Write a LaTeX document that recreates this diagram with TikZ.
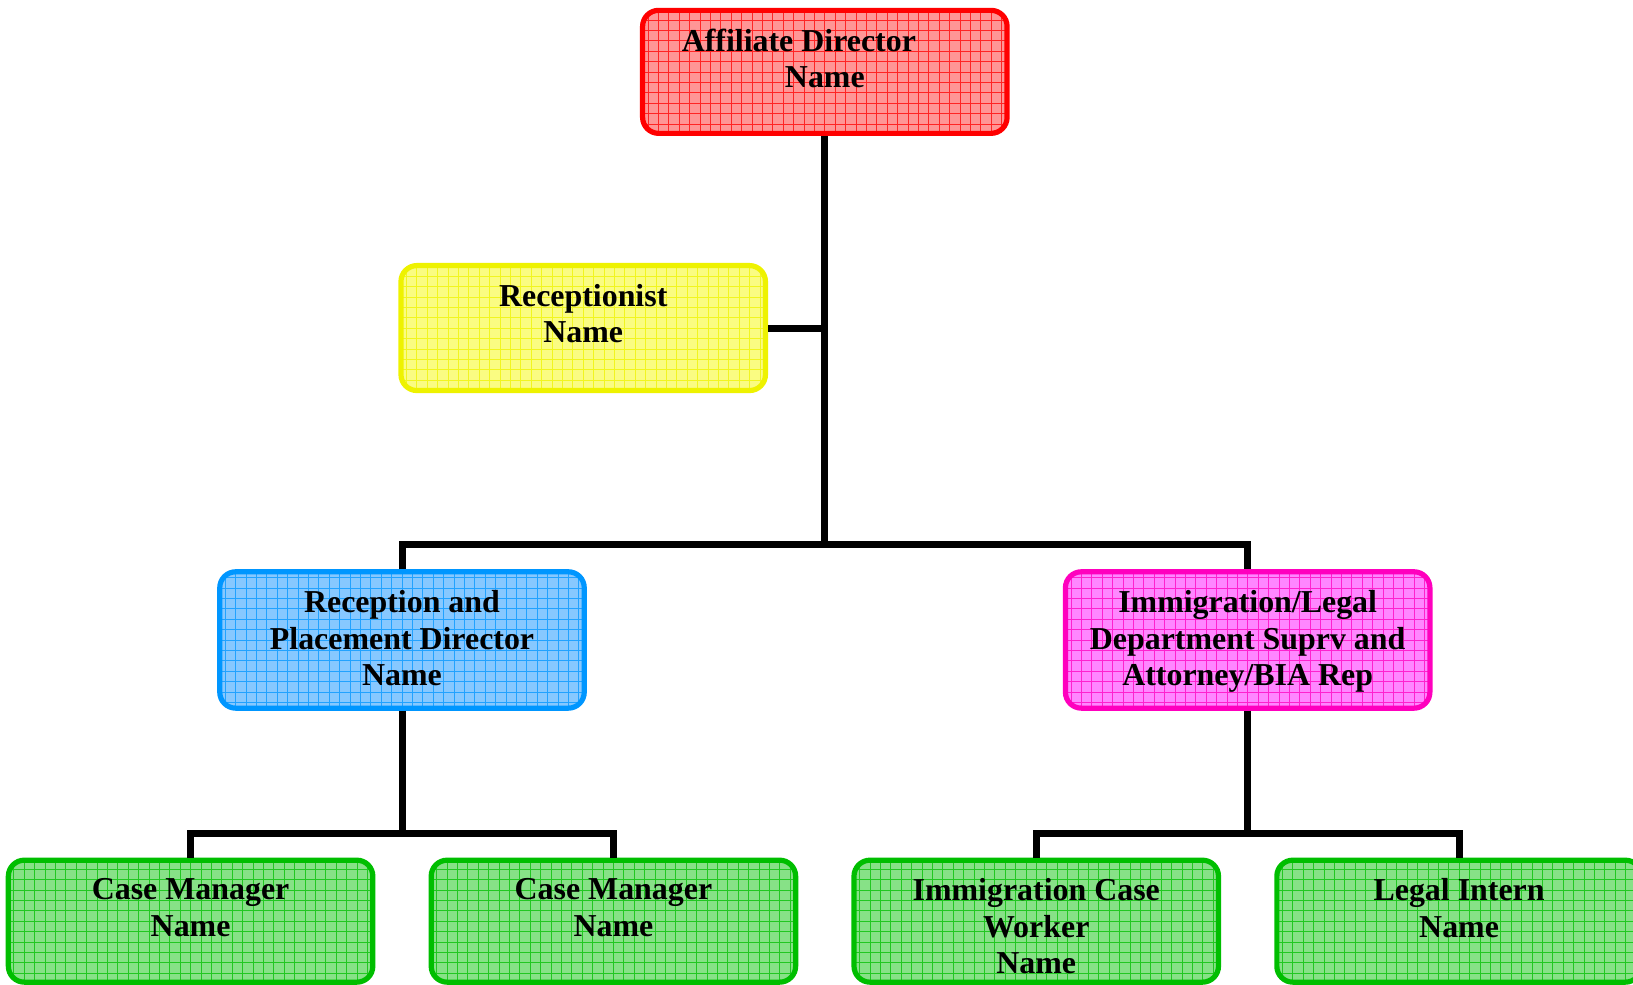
\documentclass[tikz,border=0pt]{standalone}
\usepackage{fontspec}
\setmainfont{Liberation Serif}
\definecolor{redB}{RGB}{255,0,0}\definecolor{redF}{RGB}{255,150,150}
\definecolor{yelB}{RGB}{238,242,0}\definecolor{yelF}{RGB}{250,252,130}
\definecolor{bluB}{RGB}{0,150,255}\definecolor{bluF}{RGB}{135,200,255}
\definecolor{magB}{RGB}{255,0,190}\definecolor{magF}{RGB}{255,135,255}
\definecolor{grnB}{RGB}{0,190,0}\definecolor{grnF}{RGB}{135,225,135}
\tikzset{
  orgbox/.style n args={4}{draw=#1, fill=#2, line width=5.2pt, rounded corners=16pt,
    minimum width=#3, minimum height=#4, inner sep=0pt,
    path picture={\draw[#1!75!#2, line width=0.7pt, step=10.4pt]
      (path picture bounding box.south west) grid (path picture bounding box.north east);}},
  lbl/.style={font=\fontsize{31.9}{36.5}\selectfont\bfseries, align=center, inner sep=0pt, anchor=north, text=black},
  conn/.style={line width=7pt, draw=black}
}
\begin{document}
\begin{tikzpicture}[x=1.0415pt, y=-1.0415pt]
\useasboundingbox (0,0) rectangle (1568,945);
% boxes
\node[orgbox={redB}{redF}{364.5pt}{123pt}] (dir) at (792,69) {};
\node[orgbox={yelB}{yelF}{364.5pt}{125pt}] (rec) at (560,315) {};
\node[orgbox={bluB}{bluF}{364.5pt}{136.4pt}] (rp) at (386,614.5) {};
\node[orgbox={magB}{magF}{364.5pt}{136.4pt}] (imm) at (1198,614.5) {};
\node[orgbox={grnB}{grnF}{364.5pt}{122pt}] (cm1) at (183,884.5) {};
\node[orgbox={grnB}{grnF}{364.5pt}{122pt}] (cm2) at (589,884.5) {};
\node[orgbox={grnB}{grnF}{364.5pt}{122pt}] (icw) at (995,884.5) {};
\node[orgbox={grnB}{grnF}{364.5pt}{122pt}] (li) at (1401,884.5) {};
% labels
\node[lbl] (tdir) at ([yshift=-21pt]dir.north) {Affiliate Director\hspace*{52pt}\\Name};
\node[lbl] (trec) at ([yshift=-21pt]rec.north) {Receptionist\\Name};
\node[lbl] (trp) at ([yshift=-21pt]rp.north) {Reception and\\Placement Director\\Name};
\node[lbl] (timm) at ([yshift=-21pt]imm.north) {Immigration/Legal\\Department Suprv and\\Attorney/BIA Rep};
\node[lbl] (tcm1) at ([yshift=-21pt]cm1.north) {Case Manager\\Name};
\node[lbl] (tcm2) at ([yshift=-21pt]cm2.north) {Case Manager\\Name};
\node[lbl] (ticw) at ([yshift=-21pt]icw.north) {Immigration Case\\Worker\\Name};
\node[lbl] (tli) at ([yshift=-21pt]li.north) {Legal Intern\\Name};
% junctions
\coordinate (j1) at (792,523);
\coordinate (j2) at (386,800);
\coordinate (j3) at (1198,800);
% connectors
\draw[conn] (dir.south) -- (j1);
\draw[conn] (rec.east) -- (rec.east -| j1);
\draw[conn] (rp.north) |- (j1) -| (imm.north);
\draw[conn] (rp.south) -- (j2);
\draw[conn] (cm1.north) |- (j2) -| (cm2.north);
\draw[conn] (imm.south) -- (j3);
\draw[conn] (icw.north) |- (j3) -| (li.north);
\end{tikzpicture}
\end{document}
